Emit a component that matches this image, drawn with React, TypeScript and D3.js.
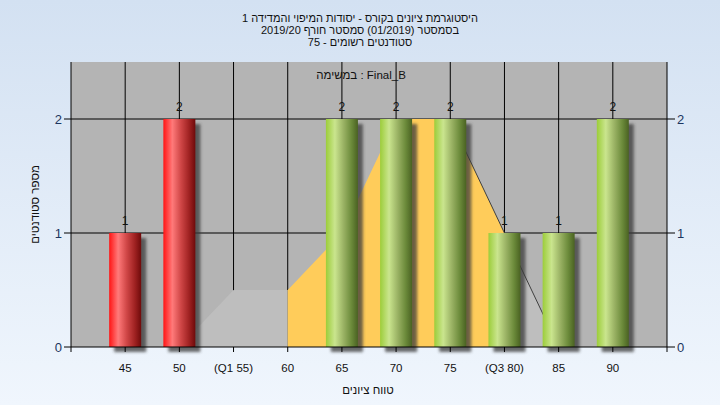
import React from "react";
import * as d3 from "d3";

const categories = ["45", "50", "(Q1 55)", "60", "65", "70", "75", "(Q3 80)", "85", "90"];
const counts = [1, 2, 0, 0, 2, 2, 2, 1, 1, 2];
const failing = [true, true, false, false, false, false, false, false, false, false];
const curveValues = [0, 0, 0.5, 0.5, 1, 2, 2, 1, 0, 0];
const grayLeftIdx = [0, 1, 2, 3];
const orangeIdx = [3, 4, 5, 6, 7];
const grayRightIdx = [7, 8, 9];
const edgeIdx = [6, 7, 8];
const yTicks = [0, 1, 2];
const titleLines = [
  "היסטוגרמת ציונים בקורס - יסודות המיפוי והמדידה 1",
  "בסמסטר  (01/2019)  סמסטר חורף 2019/20",
  "סטודנטים רשומים - 75",
];
const legendText = "במשימה : Final_B";
const xTitle = "טווח ציונים";
const yTitle = "מספר סטודנטים";

const W = 720, H = 405;
const L = 71, R = 667, T = 62, B = 347;
const FONT = "'Liberation Sans', 'DejaVu Sans', Arial, sans-serif";

export default function App() {
  const step = (R - L) / (categories.length + 1);
  const x = d3.scaleBand<string>().domain(categories).range([L + step / 2, R - step / 2]).padding(0);
  const cx = (i: number) => (x(categories[i]) as number) + x.bandwidth() / 2;
  const y = d3.scaleLinear().domain([0, 2.5]).range([B, T]);
  const barW = 32;

  const area = d3.area<number>().x((i) => cx(i)).y0(B).y1((i) => y(curveValues[i]));
  const line = d3.line<number>().x((i) => cx(i)).y((i) => y(curveValues[i]));

  return (
    <svg width={W} height={H} style={{ position: "absolute", left: 0, top: 0, display: "block" }} fontFamily={FONT}>
      <defs>
        <linearGradient id="bg" x1="0" y1="0" x2="0" y2="1">
          <stop offset="0" stopColor="#D3E1F2" />
          <stop offset="1" stopColor="#F0F6FD" />
        </linearGradient>
        <linearGradient id="red" x1="0" y1="0" x2="1" y2="0">
          <stop offset="0" stopColor="#FF1414" />
          <stop offset="0.28" stopColor="#FF7A7A" />
          <stop offset="0.55" stopColor="#CF4646" />
          <stop offset="0.8" stopColor="#A02222" />
          <stop offset="1" stopColor="#6E0A0A" />
        </linearGradient>
        <linearGradient id="green" x1="0" y1="0" x2="1" y2="0">
          <stop offset="0" stopColor="#9CCD3A" />
          <stop offset="0.28" stopColor="#CAE58E" />
          <stop offset="0.55" stopColor="#9AB264" />
          <stop offset="0.8" stopColor="#6B8A3A" />
          <stop offset="1" stopColor="#4A6222" />
        </linearGradient>
        <filter id="blur" x="-50%" y="-50%" width="200%" height="200%">
          <feGaussianBlur stdDeviation="1.6" />
        </filter>
      </defs>
      <rect x={0} y={0} width={W} height={H} fill="url(#bg)" />

      {/* plot background */}
      <rect x={L} y={T} width={R - L} height={B - T} fill="#B4B4B4" />

      {/* grid */}
      {yTicks.filter((t) => t > 0).map((t) => (
        <line key={"hg" + t} x1={L} x2={R} y1={y(t)} y2={y(t)} stroke="#000" strokeWidth={1} />
      ))}
      {categories.map((c, i) => (
        <line key={"vg" + c} x1={cx(i)} x2={cx(i)} y1={T} y2={B} stroke="#000" strokeWidth={1} />
      ))}

      {/* legend text */}
      <text x={361} y={79} textAnchor="middle" fontSize={11.5} fill="#111">{legendText}</text>

      {/* areas */}
      <path d={area(grayLeftIdx) || ""} fill="#BEBEBE" />
      <path d={area(grayRightIdx) || ""} fill="#BEBEBE" />
      <path d={area(orangeIdx) || ""} fill="#FFCC5A" />
      <path d={line(edgeIdx) || ""} fill="none" stroke="#404040" strokeWidth={1} />

      {/* bar shadows */}
      {counts.map((v, i) =>
        v > 0 ? (
          <rect key={"s" + i} x={cx(i) - barW / 2 + 5} y={y(v) + 5} width={barW} height={B - y(v)}
            fill="#3a3a3a" opacity={0.75} filter="url(#blur)" />
        ) : null
      )}
      {/* bars */}
      {counts.map((v, i) =>
        v > 0 ? (
          <rect key={"b" + i} x={cx(i) - barW / 2} y={y(v)} width={barW} height={B - y(v)}
            fill={failing[i] ? "url(#red)" : "url(#green)"} />
        ) : null
      )}
      {/* bar labels */}
      {counts.map((v, i) =>
        v > 0 ? (
          <text key={"l" + i} x={cx(i)} y={y(v) - 8} textAnchor="middle" fontSize={12} fill="#111">{v}</text>
        ) : null
      )}

      {/* axes */}
      <line x1={L} x2={L} y1={T} y2={B} stroke="#000" />
      <line x1={R} x2={R} y1={T} y2={B + 5} stroke="#000" />
      <line x1={L} x2={R} y1={B} y2={B} stroke="#000" />
      <line x1={L} x2={L} y1={B} y2={B + 5} stroke="#000" />
      {categories.map((c, i) => (
        <g key={"xt" + c}>
          <line x1={cx(i)} x2={cx(i)} y1={B} y2={B + 5} stroke="#000" />
          <text x={cx(i)} y={372} textAnchor="middle" fontSize={11.5} fill="#111">{c}</text>
        </g>
      ))}
      {yTicks.map((t) => (
        <g key={"yt" + t}>
          <line x1={L - 7} x2={L} y1={y(t)} y2={y(t)} stroke="#000" />
          <text x={L - 9} y={y(t)} dy="0.35em" textAnchor="end" fontSize={13} fill="#1c3660">{t}</text>
          <line x1={R} x2={R + 8} y1={y(t)} y2={y(t)} stroke="#000" />
          <text x={R + 10} y={y(t)} dy="0.35em" textAnchor="start" fontSize={13} fill="#1c3660">{t}</text>
        </g>
      ))}

      {/* titles */}
      {titleLines.map((s, i) => (
        <text key={"t" + i} x={360} y={22 + i * 12} textAnchor="middle" fontSize={11} fill="#111">{s}</text>
      ))}
      <text x={368} y={394} textAnchor="middle" fontSize={11.5} fill="#111">{xTitle}</text>
      <text transform={`translate(35, ${(T + B) / 2}) rotate(-90)`} textAnchor="middle" dy="0.35em" fontSize={11.5} fill="#111">{yTitle}</text>
    </svg>
  );
}
